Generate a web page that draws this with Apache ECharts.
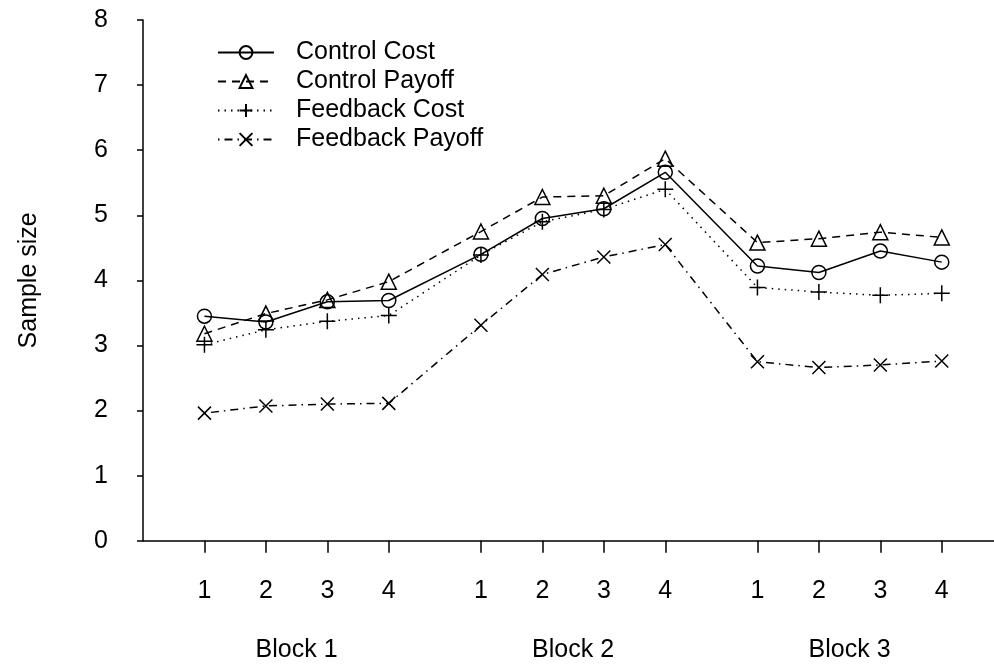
<!DOCTYPE html>
<html>
<head>
<meta charset="utf-8">
<script src="https://cdn.jsdelivr.net/npm/echarts@6/dist/echarts.min.js"></script>
<style>
  html, body { margin: 0; padding: 0; background: #fff; }
  #chart { width: 994px; height: 664px; }
</style>
</head>
<body>
<div id="chart"></div>
<script>
// Trial positions along the x axis (three blocks of four trials, with a gap between blocks)
const positions = [1, 2, 3, 4, 5.5, 6.5, 7.5, 8.5, 10, 11, 12, 13];
const trialLabels = ['1', '2', '3', '4', '1', '2', '3', '4', '1', '2', '3', '4'];
const blockNames = ['Block 1', 'Block 2', 'Block 3'];
const yTicks = [0, 1, 2, 3, 4, 5, 6, 7, 8];

// Mean sample size per trial
const controlCost    = [3.45, 3.36, 3.67, 3.69, 4.40, 4.95, 5.10, 5.66, 4.22, 4.12, 4.45, 4.28];
const controlPayoff  = [3.18, 3.49, 3.70, 3.98, 4.75, 5.28, 5.30, 5.87, 4.58, 4.64, 4.74, 4.66];
const feedbackCost   = [3.01, 3.24, 3.37, 3.46, 4.39, 4.90, 5.09, 5.40, 3.89, 3.82, 3.77, 3.80];
const feedbackPayoff = [1.96, 2.07, 2.10, 2.11, 3.31, 4.09, 4.36, 4.55, 2.75, 2.66, 2.70, 2.76];

const FONT = '"Liberation Sans", Arial, Helvetica, sans-serif';
const INK = '#000';

const pair = vals => positions.map((x, i) => [x, vals[i]]);

// Block label sits at the middle of its four trials
const blockCenters = blockNames.map((_, b) => {
  const p = positions.slice(b * 4, b * 4 + 4);
  return (p[0] + p[3]) / 2;
});

const labelFor = v => {
  const i = positions.findIndex(p => Math.abs(p - v) < 1e-6);
  return i >= 0 ? trialLabels[i] : '';
};
const blockFor = v => {
  const i = blockCenters.findIndex(p => Math.abs(p - v) < 1e-6);
  return i >= 0 ? blockNames[i] : '';
};

const PLUS = 'path://M0,8 L16,8 M8,0 L8,16';
const CROSS = 'path://M0,0 L10,10 M10,0 L0,10';

function makeSeries(name, vals, symbol, size, dash) {
  return {
    name: name,
    type: 'line',
    data: pair(vals),
    symbol: symbol,
    symbolSize: size,
    showAllSymbol: true,
    z: 3,
    lineStyle: { color: INK, width: 1.5, type: dash },
    itemStyle: { color: 'rgba(0,0,0,0)', borderColor: INK, borderWidth: 1.5 },
    emphasis: { disabled: true },
    animation: false
  };
}

const chart = echarts.init(document.getElementById('chart'), null, { renderer: 'canvas' });

chart.setOption({
  backgroundColor: '#fff',
  animation: false,
  textStyle: { fontFamily: FONT, color: INK },
  grid: { left: 143, right: 0, top: 20, bottom: 123.3 },
  legend: {
    orient: 'vertical',
    left: 212,
    top: 35,
    itemWidth: 56,
    itemHeight: 16,
    itemGap: 4,
    selectedMode: false,
    textStyle: { fontFamily: FONT, fontSize: 25, lineHeight: 25, color: INK, padding: [0, 0, 0, 17] },
    data: ['Control Cost', 'Control Payoff', 'Feedback Cost', 'Feedback Payoff']
  },
  xAxis: [
    {
      type: 'value',
      position: 'bottom',
      min: 0,
      max: 13.85,
      axisLine: { show: true, lineStyle: { color: INK, width: 1.5 } },
      axisTick: { show: true, length: 12, customValues: positions, lineStyle: { color: INK, width: 1.5 } },
      axisLabel: {
        customValues: positions,
        formatter: labelFor,
        fontFamily: FONT, fontSize: 25, color: INK, margin: 38
      },
      splitLine: { show: false }
    },
    {
      type: 'value',
      position: 'bottom',
      min: 0,
      max: 13.85,
      axisLine: { show: false },
      axisTick: { show: false },
      axisLabel: {
        customValues: blockCenters,
        formatter: blockFor,
        fontFamily: FONT, fontSize: 25, color: INK, margin: 97
      },
      splitLine: { show: false }
    }
  ],
  yAxis: {
    type: 'value',
    min: yTicks[0],
    max: yTicks[yTicks.length - 1],
    interval: 1,
    name: 'Sample size',
    nameLocation: 'middle',
    nameGap: 101,
    nameTextStyle: { fontFamily: FONT, fontSize: 25, color: INK },
    axisLine: { show: true, lineStyle: { color: INK, width: 1.5 } },
    axisTick: { show: true, length: 6, lineStyle: { color: INK, width: 1.5 } },
    axisLabel: { fontFamily: FONT, fontSize: 25, color: INK, margin: 35 },
    splitLine: { show: false }
  },
  series: [
    makeSeries('Control Cost', controlCost, 'circle', 14, 'solid'),
    makeSeries('Control Payoff', controlPayoff, 'triangle', 15, [8, 6]),
    makeSeries('Feedback Cost', feedbackCost, PLUS, 16, [1.5, 5]),
    makeSeries('Feedback Payoff', feedbackPayoff, CROSS, 13, [1.5, 5, 8, 5])
  ]
});
</script>
</body>
</html>
